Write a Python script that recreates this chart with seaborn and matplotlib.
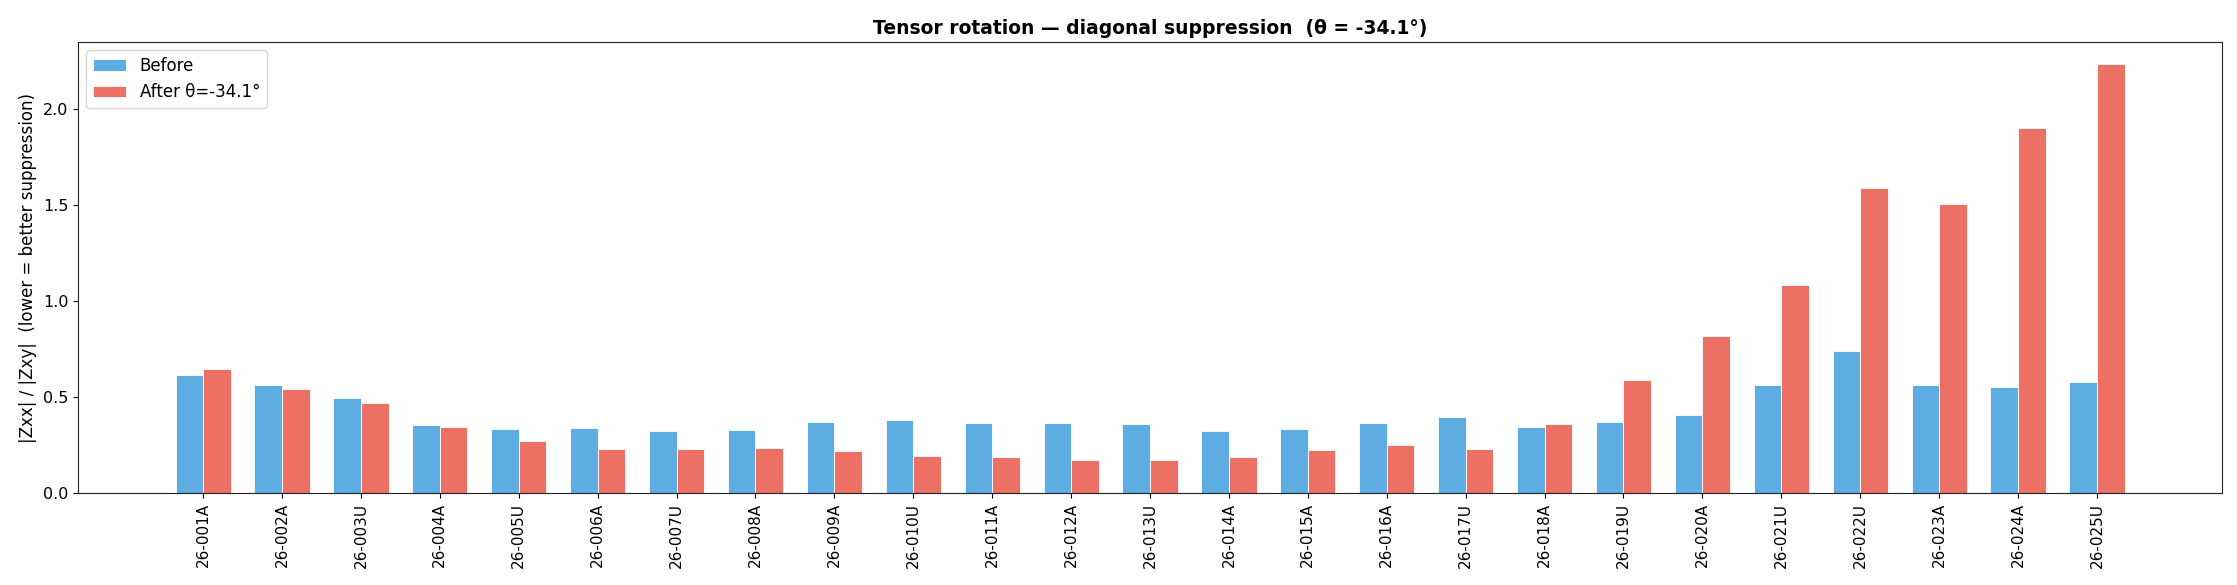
import numpy as np
import pandas as pd
import matplotlib
matplotlib.use("Agg")
import matplotlib.pyplot as plt
import seaborn as sns

stations = ["26-001A", "26-002A", "26-003U", "26-004A", "26-005U", "26-006A", "26-007U",
            "26-008A", "26-009A", "26-010U", "26-011A", "26-012A", "26-013U", "26-014A",
            "26-015A", "26-016A", "26-017U", "26-018A", "26-019U", "26-020A", "26-021U",
            "26-022U", "26-023A", "26-024A", "26-025U"]
before = [0.615, 0.562, 0.495, 0.354, 0.333, 0.339, 0.323, 0.328, 0.370, 0.380, 0.365,
          0.365, 0.359, 0.323, 0.333, 0.365, 0.396, 0.344, 0.370, 0.406, 0.562, 0.740,
          0.562, 0.552, 0.578]
after = [0.646, 0.542, 0.469, 0.344, 0.271, 0.229, 0.229, 0.234, 0.219, 0.193, 0.188,
         0.172, 0.172, 0.188, 0.224, 0.250, 0.229, 0.359, 0.589, 0.818, 1.083, 1.589,
         1.505, 1.901, 2.234]
series_labels = ["Before", "After θ=-34.1°"]
colors = ["#5DADE2", "#EC7063"]

df = pd.DataFrame({
    "station": stations * 2,
    "value": before + after,
    "series": [series_labels[0]] * len(stations) + [series_labels[1]] * len(stations),
})

sns.set_style("ticks")
plt.rcParams["font.family"] = ["DejaVu Sans"]
plt.rcParams.update({
    "text.color": "black",
    "axes.labelcolor": "black",
    "xtick.color": "black",
    "ytick.color": "black",
    "axes.edgecolor": "#222222",
})

fig = plt.figure(figsize=(22.37, 5.85), dpi=100)
ax = fig.add_axes([0.0349, 0.157, 0.9584, 0.771])

sns.barplot(data=df, x="station", y="value", hue="series", order=stations,
            hue_order=series_labels, palette=colors, saturation=1, width=0.7, gap=0,
            edgecolor="white", linewidth=0.6, errorbar=None, ax=ax)

n = len(stations)
span = (n - 1) + 0.7
ax.set_xlim(-0.35 - 0.05 * span, n - 1 + 0.35 + 0.05 * span)
ax.set_ylim(0, max(max(before), max(after)) * 1.05)

ax.set_title("Tensor rotation — diagonal suppression  (θ = -34.1°)",
             fontsize=13.5, fontweight="bold", color="black")
ax.set_xlabel("")
ax.set_ylabel("|Zxx| / |Zxy|  (lower = better suppression)", fontsize=12)
ax.tick_params(axis="x", labelrotation=90, labelsize=11, colors="black")
ax.tick_params(axis="y", labelsize=11.5, colors="black")
for s in ax.spines.values():
    s.set_visible(True)

leg = ax.legend(loc="upper left", fontsize=12, frameon=True)
leg.set_title(None)

fig.savefig("out.png", dpi=100)
